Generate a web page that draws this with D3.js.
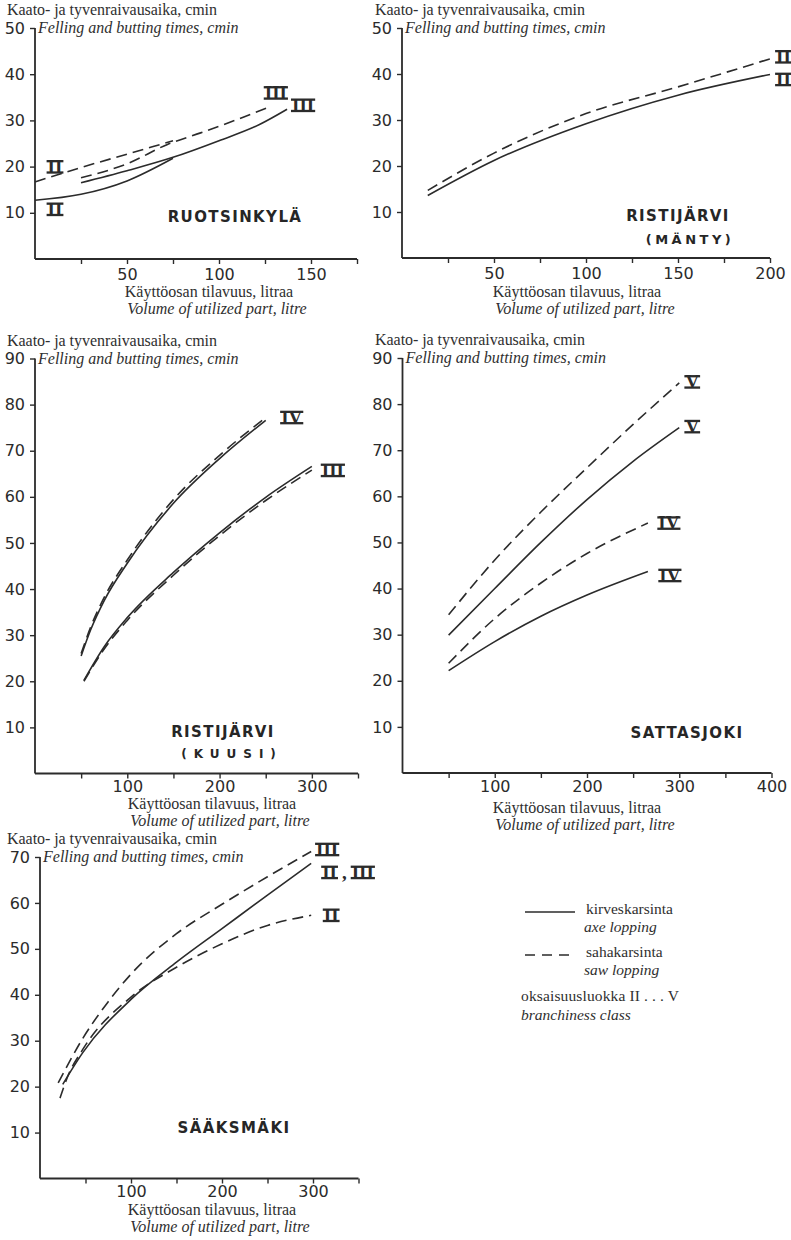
<!DOCTYPE html>
<html>
<head>
<meta charset="utf-8">
<script src="https://cdn.jsdelivr.net/npm/d3@7"></script>
<style>
  body { margin: 0; background: #fff; }
  svg { display: block; }
  .serif { font-family: "Liberation Serif", "DejaVu Serif", serif; fill: #2f2f2f; }
  .tick text { font-family: "DejaVu Sans", sans-serif; fill: #2b2b2b; }
  .num { font-family: "Liberation Serif", "DejaVu Serif", serif; font-weight: bold; fill: #2b2b2b; }
  .title { font-family: "DejaVu Sans", sans-serif; font-weight: bold; fill: #262626; }
</style>
</head>
<body>
<svg id="chart" width="791" height="1240"></svg>
<script>
// ---- Ruotsinkylä: felling + butting time (cmin) vs. utilized volume (litre)
const ruotsVolAxeII   = [0, 25, 50, 75];
const ruotsTimeAxeII  = [12.7, 14.0, 16.9, 21.8];
const ruotsVolAxeIII  = [25, 50, 75, 100, 122, 137];
const ruotsTimeAxeIII = [16.5, 19.1, 22.0, 25.6, 29.1, 32.4];
const ruotsVolSawII   = [0, 25, 50, 75];
const ruotsTimeSawII  = [16.7, 19.8, 22.7, 25.6];
const ruotsVolSawIII  = [25, 50, 72, 90, 108, 126];
const ruotsTimeSawIII = [17.6, 20.6, 24.8, 27.3, 29.9, 32.7];

// ---- Ristijärvi, pine (mänty)
const mantyVol        = [14, 50, 100, 150, 200];
const mantyTimeAxeII  = [13.6, 21.2, 29.2, 35.4, 39.9];
const mantyTimeSawII  = [14.7, 22.8, 31.4, 37.2, 43.3];

// ---- Ristijärvi, spruce (kuusi)
const kuusiVolIV      = [50, 60, 75, 100, 150, 200, 250];
const kuusiTimeAxeIV  = [25.5, 31.0, 37.5, 45.6, 58.6, 68.3, 76.6];
const kuusiTimeSawIV  = [26.0, 31.6, 38.2, 46.3, 59.4, 69.0, 77.2];
const kuusiVolIII     = [53, 75, 100, 150, 200, 250, 300];
const kuusiTimeAxeIII = [20.2, 27.5, 33.8, 43.6, 52.2, 59.9, 66.6];
const kuusiTimeSawIII = [20.0, 27.0, 33.2, 43.0, 51.6, 59.2, 65.8];

// ---- Sattasjoki
const sattasVolV      = [50, 100, 150, 200, 250, 300];
const sattasTimeSawV  = [34.3, 46.2, 56.6, 66.2, 75.6, 84.6];
const sattasTimeAxeV  = [29.9, 40.0, 50.0, 59.3, 67.6, 74.9];
const sattasVolIV     = [50, 100, 150, 200, 266];
const sattasTimeSawIV = [23.8, 33.5, 41.2, 47.6, 54.2];
const sattasTimeAxeIV = [22.2, 28.5, 34.0, 38.6, 43.7];

// ---- Sääksmäki
const saakVolSawIII   = [20, 47, 75, 100, 150, 200, 250, 298];
const saakTimeSawIII  = [20.8, 30.5, 38.5, 44.5, 53.3, 59.7, 65.7, 71.2];
const saakVolAxe      = [25, 47, 100, 150, 200, 250, 298];
const saakTimeAxe     = [20.5, 27.4, 39.0, 47.1, 54.4, 61.7, 68.6];
const saakVolSawII    = [22, 30, 47, 100, 150, 200, 250, 298];
const saakTimeSawII   = [17.5, 22.0, 28.1, 39.5, 46.0, 51.1, 55.1, 57.3];

// ---- axis ticks
const yTicks50 = [10, 20, 30, 40, 50];
const yTicks70 = [10, 20, 30, 40, 50, 60, 70];
const yTicks90 = [10, 20, 30, 40, 50, 60, 70, 80, 90];
const xTicks175 = [25, 50, 75, 100, 125, 150, 175];
const xLabels175 = [50, 100, 150];
const xTicks200 = [25, 50, 75, 100, 125, 150, 175, 200];
const xLabels200 = [50, 100, 150, 200];
const xTicks350 = [50, 100, 150, 200, 250, 300, 350];
const xLabels350 = [100, 200, 300];
const xTicks400 = [50, 100, 150, 200, 250, 300, 350, 400];
const xLabels400 = [100, 200, 300, 400];

// ---- texts
const yTitleFi = "Kaato- ja tyvenraivausaika, cmin";
const yTitleEn = "Felling and butting times, cmin";
const xTitleFi = "Käyttöosan tilavuus, litraa";
const xTitleEn = "Volume of utilized part, litre";
const legendItems = [
  { fi: "kirveskarsinta", en: "axe lopping", dashed: false },
  { fi: "sahakarsinta", en: "saw lopping", dashed: true }
];
const classFi = "oksaisuusluokka II . . . V";
const classEn = "branchiness class";

const zip = (xs, ys) => xs.map((x, i) => ({ x, y: ys[i] }));

const panels = [
  {
    xDomain: [0, 175], xRange: [35, 357], yDomain: [0, 50], yRange: [259, 28],
    xTicks: xTicks175, xLabels: xLabels175, yTicks: yTicks50, tickPad: 5,
    yTitleX: 7, xTitleX: 209, xTitleY: 297,
    titles: [{ text: "RUOTSINKYLÄ", x: 235, y: 222, size: 15, ls: 1.4 }],
    series: [
      { pts: zip(ruotsVolAxeII, ruotsTimeAxeII), dashed: false, label: ["II"], at: "start", dx: 20, dy: 9 },
      { pts: zip(ruotsVolAxeIII, ruotsTimeAxeIII), dashed: false, label: ["III"], at: "end", dx: 16, dy: -4 },
      { pts: zip(ruotsVolSawII, ruotsTimeSawII), dashed: true, label: ["II"], at: "start", dx: 20, dy: -15 },
      { pts: zip(ruotsVolSawIII, ruotsTimeSawIII), dashed: true, label: ["III"], at: "end", dx: 9, dy: -15 }
    ]
  },
  {
    xDomain: [0, 200], xRange: [402, 770], yDomain: [0, 50], yRange: [258, 28],
    xTicks: xTicks200, xLabels: xLabels200, yTicks: yTicks50, tickPad: 5,
    yTitleX: 375, xTitleX: 577, xTitleY: 297,
    titles: [
      { text: "RISTIJÄRVI", x: 678, y: 221, size: 15, ls: 1.4 },
      { text: "(MÄNTY)", x: 690, y: 244, size: 13, ls: 3.5 }
    ],
    series: [
      { pts: zip(mantyVol, mantyTimeAxeII), dashed: false, label: ["II"], at: "end", dx: 13.5, dy: 5 },
      { pts: zip(mantyVol, mantyTimeSawII), dashed: true, label: ["II"], at: "end", dx: 13.5, dy: -2 }
    ]
  },
  {
    xDomain: [0, 350], xRange: [35, 358], yDomain: [0, 90], yRange: [773.5, 358.5],
    xTicks: xTicks350, xLabels: xLabels350, yTicks: yTicks90, tickPad: 2,
    yTitleX: 7, xTitleX: 212, xTitleY: 809,
    titles: [
      { text: "RISTIJÄRVI", x: 223, y: 737, size: 15, ls: 1.4 },
      { text: "(KUUSI)", x: 232, y: 758, size: 12, ls: 7 }
    ],
    series: [
      { pts: zip(kuusiVolIV, kuusiTimeAxeIV), dashed: false, label: null },
      { pts: zip(kuusiVolIV, kuusiTimeSawIV), dashed: true, label: ["IV"], at: "end", dx: 26, dy: 0 },
      { pts: zip(kuusiVolIII, kuusiTimeAxeIII), dashed: false, label: ["III"], at: "end", dx: 21, dy: 4 },
      { pts: zip(kuusiVolIII, kuusiTimeSawIII), dashed: true, label: null }
    ]
  },
  {
    xDomain: [0, 400], xRange: [402.5, 771.5], yDomain: [0, 90], yRange: [773, 358],
    xTicks: xTicks400, xLabels: xLabels400, yTicks: yTicks90, tickPad: 3,
    yTitleX: 375, xTitleX: 577, xTitleY: 813,
    titles: [{ text: "SATTASJOKI", x: 687, y: 738, size: 15, ls: 1.4 }],
    series: [
      { pts: zip(sattasVolV, sattasTimeSawV), dashed: true, label: ["V"], at: "end", dx: 13, dy: -1 },
      { pts: zip(sattasVolV, sattasTimeAxeV), dashed: false, label: ["V"], at: "end", dx: 13, dy: -1 },
      { pts: zip(sattasVolIV, sattasTimeSawIV), dashed: true, label: ["IV"], at: "end", dx: 21, dy: 0 },
      { pts: zip(sattasVolIV, sattasTimeAxeIV), dashed: false, label: ["IV"], at: "end", dx: 22, dy: 4 }
    ]
  },
  {
    xDomain: [0, 350], xRange: [40, 358.5], yDomain: [0, 70], yRange: [1178.5, 857],
    xTicks: xTicks350, xLabels: xLabels350, yTicks: yTicks70, tickPad: 2,
    yTitleX: 7, xTitleX: 212, xTitleY: 1215,
    titles: [{ text: "SÄÄKSMÄKI", x: 234, y: 1133, size: 15, ls: 1.4 }],
    series: [
      { pts: zip(saakVolSawIII, saakTimeSawIII), dashed: true, label: ["III"], at: "end", dx: 16, dy: -2 },
      { pts: zip(saakVolAxe, saakTimeAxe), dashed: false, label: ["II", ",", "III"], at: "end", dx: 11, dy: 9, anchor: "start" },
      { pts: zip(saakVolSawII, saakTimeSawII), dashed: true, label: ["II"], at: "end", dx: 20, dy: 0 }
    ]
  }
];

const svg = d3.select("#chart");
const ink = "#2b2b2b";
const numSize = 19;
const capH = numSize * 0.655;

// Roman numeral class labels, drawn with bars across the top and the foot
function classLabel(g, parts, cx, cy, anchor) {
  const grp = g.append("g");
  let cursor = 0;
  const baseY = cy + capH / 2;
  parts.forEach((part, i) => {
    if (i > 0) cursor += 5;
    const t = grp.append("text").attr("class", "num").attr("font-size", numSize)
      .attr("x", cursor).attr("y", baseY).text(part);
    const w = t.node().getComputedTextLength();
    if (part !== ",") {
      grp.append("rect").attr("x", cursor - 1).attr("y", baseY - capH - 0.6)
        .attr("width", w + 2).attr("height", 2.3).attr("fill", ink);
      grp.append("rect").attr("x", cursor - 1).attr("y", baseY - 1.7)
        .attr("width", w + 2).attr("height", 2.3).attr("fill", ink);
    }
    cursor += w;
  });
  const shift = anchor === "start" ? cx : cx - cursor / 2;
  grp.attr("transform", `translate(${shift},0)`);
}

panels.forEach(p => {
  const x = d3.scaleLinear().domain(p.xDomain).range(p.xRange);
  const y = d3.scaleLinear().domain(p.yDomain).range(p.yRange);
  const g = svg.append("g");

  // axes
  const xAxis = d3.axisBottom(x).tickValues(p.xTicks).tickSize(5).tickPadding(p.tickPad)
    .tickFormat(d => p.xLabels.includes(d) ? d : "");
  const yAxis = d3.axisLeft(y).tickValues(p.yTicks).tickSize(5).tickPadding(5);

  const gx = g.append("g").attr("transform", `translate(0,${p.yRange[0]})`).call(xAxis);
  const gy = g.append("g").attr("transform", `translate(${p.xRange[0]},0)`).call(yAxis);
  [gx, gy].forEach(a => {
    a.select(".domain").attr("stroke", ink).attr("stroke-width", 1.8);
    a.selectAll(".tick line").attr("stroke", ink).attr("stroke-width", 1.4);
    a.selectAll(".tick text").attr("font-size", 16);
  });
  // axis lines run from the origin to the ends of the scales
  gx.select(".domain").attr("d", `M${p.xRange[0]},0H${p.xRange[1]}`);
  gy.select(".domain").attr("d", `M0,${p.yRange[0]}V${p.yRange[1]}`);

  // axis titles
  const yTop = p.yRange[1];
  g.append("text").attr("class", "serif").attr("x", p.yTitleX).attr("y", yTop - 13)
    .attr("font-size", 16).attr("textLength", 210).attr("lengthAdjust", "spacing")
    .text(yTitleFi);
  g.append("text").attr("class", "serif").attr("x", p.xRange[0] + 3).attr("y", yTop + 5)
    .attr("font-size", 16).attr("font-style", "italic").text(yTitleEn);
  g.append("text").attr("class", "serif").attr("x", p.xTitleX).attr("y", p.xTitleY)
    .attr("text-anchor", "middle").attr("font-size", 16).text(xTitleFi);
  g.append("text").attr("class", "serif").attr("x", p.xTitleX + 8).attr("y", p.xTitleY + 17)
    .attr("text-anchor", "middle").attr("font-size", 16).attr("font-style", "italic").text(xTitleEn);

  // curves
  const line = d3.line().x(d => x(d.x)).y(d => y(d.y)).curve(d3.curveMonotoneX);
  p.series.forEach(s => {
    g.append("path").datum(s.pts).attr("d", line)
      .attr("fill", "none").attr("stroke", ink).attr("stroke-width", 1.6)
      .attr("stroke-dasharray", s.dashed ? "11,6" : null);
    if (s.label) {
      const ref = s.at === "start" ? s.pts[0] : s.pts[s.pts.length - 1];
      classLabel(g, s.label, x(ref.x) + s.dx, y(ref.y) + s.dy, s.anchor || "middle");
    }
  });

  // place name
  p.titles.forEach(t => {
    g.append("text").attr("class", "title").attr("x", t.x).attr("y", t.y)
      .attr("text-anchor", "middle").attr("font-size", t.size)
      .attr("letter-spacing", t.ls).text(t.text);
  });
});

// legend
const lg = svg.append("g");
legendItems.forEach((it, i) => {
  const yy = 912 + i * 43;
  lg.append("line").attr("x1", 525).attr("x2", 575).attr("y1", yy).attr("y2", yy)
    .attr("stroke", ink).attr("stroke-width", 1.5)
    .attr("stroke-dasharray", it.dashed ? "10,7" : null);
  lg.append("text").attr("class", "serif").attr("x", 586).attr("y", yy + 2)
    .attr("font-size", 15.5).text(it.fi);
  lg.append("text").attr("class", "serif").attr("x", 584).attr("y", yy + 20)
    .attr("font-size", 15.5).attr("font-style", "italic").text(it.en);
});
lg.append("text").attr("class", "serif").attr("x", 521).attr("y", 1001)
  .attr("font-size", 15.5).attr("textLength", 158).attr("lengthAdjust", "spacing")
  .text(classFi);
lg.append("text").attr("class", "serif").attr("x", 521).attr("y", 1020)
  .attr("font-size", 15.5).attr("font-style", "italic").text(classEn);
</script>
</body>
</html>
